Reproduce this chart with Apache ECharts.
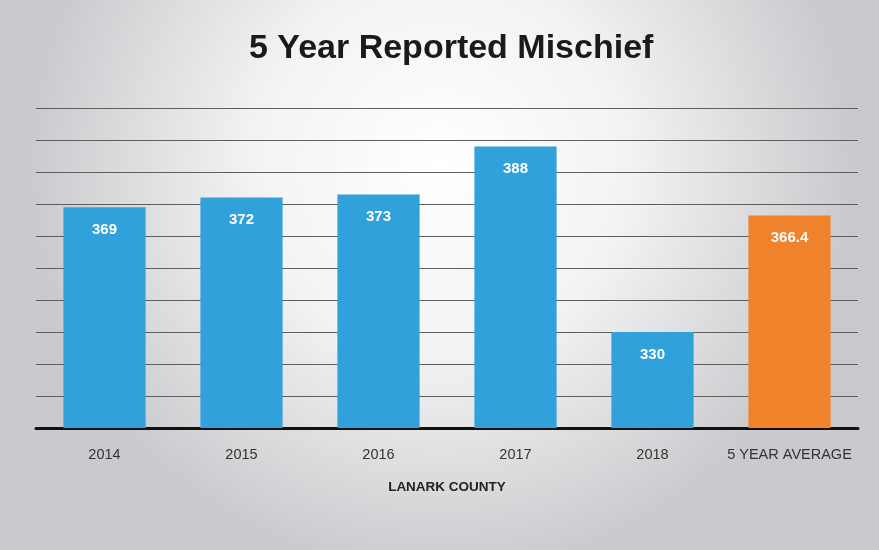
<!DOCTYPE html>
<html><head><meta charset="utf-8">
<script src="https://cdn.jsdelivr.net/npm/echarts@6/dist/echarts.min.js"></script>
<style>html,body{margin:0;padding:0;}#c{width:879px;height:550px;}</style>
</head><body><div id="c"></div>
<script>
const categories = ['2014','2015','2016','2017','2018','5 YEAR AVERAGE'];
const values = [369, 372, 373, 388, 330, 366.4];
const barColors = ['#31a1dc','#31a1dc','#31a1dc','#31a1dc','#31a1dc','#f0822c'];
const yMin = 300, yMax = 400, yStep = 10;

const chart = echarts.init(document.getElementById('c'));
chart.setOption({
  backgroundColor: {type:'radial', x:0.5, y:0.3, r:0.75,
    colorStops:[{offset:0,color:'#ffffff'},{offset:0.45,color:'#f3f3f4'},{offset:1,color:'#c9cacd'}]},
  title: {text:'5 Year Reported Mischief', left:244, top:27,
    textStyle:{fontFamily:'Liberation Sans', fontWeight:'bold', fontSize:34, color:'#1a1a1a'}},
  grid: {left:36, right:21, top:108, bottom:122},
  xAxis: {type:'category', data:categories,
    axisLine:{lineStyle:{color:'#111', width:3}}, axisTick:{show:false},
    axisLabel:{color:'#333', fontSize:14.5, fontFamily:'Liberation Sans', margin:19, interval:0},
    name:'LANARK COUNTY', nameLocation:'middle', nameGap:52,
    nameTextStyle:{color:'#222', fontSize:13.5, fontWeight:'bold', fontFamily:'Liberation Sans'}},
  yAxis: {type:'value', min:yMin, max:yMax, interval:yStep,
    axisLabel:{show:false}, axisLine:{show:false}, axisTick:{show:false},
    splitLine:{lineStyle:{color:'#5e5e5e', width:1}}},
  series: [{type:'bar', barCategoryGap:'40%',
    data: values.map((v,i)=>({value:v, itemStyle:{color:barColors[i]}})),
    label:{show:true, position:'insideTop', distance:15, color:'#fff', fontWeight:'bold',
      fontSize:15, fontFamily:'Liberation Sans'}}]
});
</script></body></html>
